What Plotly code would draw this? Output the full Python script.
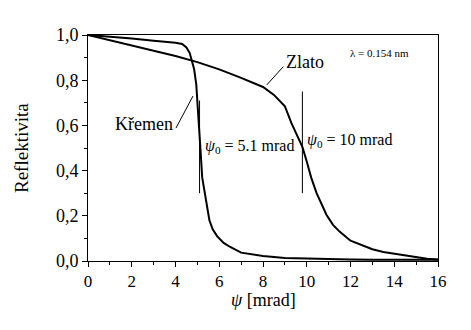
import plotly.graph_objects as go

# Reflectivity of quartz (Křemen) vs. grazing angle psi [mrad]
psi_kremen = [0, 1, 2, 3, 3.5, 4.0, 4.3, 4.5, 4.65, 4.75, 4.85, 4.95, 5.05, 5.12,
              5.17, 5.22, 5.3, 5.4, 5.55, 5.7, 5.9, 6.2, 6.5, 7.0, 7.5, 8, 9, 10,
              11, 12, 13, 14, 15, 16]
r_kremen = [1.0, 0.993, 0.985, 0.975, 0.972, 0.966, 0.96, 0.945, 0.92, 0.89, 0.85,
            0.78, 0.65, 0.55, 0.45, 0.37, 0.32, 0.26, 0.18, 0.14, 0.11, 0.08, 0.062,
            0.037, 0.028, 0.022, 0.013, 0.01, 0.008, 0.007, 0.006, 0.006, 0.005, 0.005]

# Reflectivity of gold (Zlato)
psi_zlato = [0, 1, 2, 3, 4, 5, 6, 7, 7.5, 8, 8.5, 9, 9.3, 9.6, 9.8, 10.0, 10.2,
             10.45, 10.7, 10.9, 11.2, 11.5, 12, 12.5, 13, 13.5, 14, 14.5, 15, 15.5, 16]
r_zlato = [1.0, 0.977, 0.955, 0.932, 0.907, 0.88, 0.848, 0.81, 0.79, 0.77, 0.735,
           0.685, 0.61, 0.55, 0.505, 0.44, 0.37, 0.30, 0.245, 0.205, 0.16, 0.13,
           0.09, 0.07, 0.052, 0.04, 0.033, 0.025, 0.016, 0.01, 0.007]

# Critical angles (marker positions) and their vertical extents
psi0_kremen = 5.1
psi0_zlato = 9.8
marker_kremen = [0.30, 0.71]
marker_zlato = [0.30, 0.75]

x_ticks = [0, 2, 4, 6, 8, 10, 12, 14, 16]
x_ticklabels = ["0", "2", "4", "6", "8", "10", "12", "14", "16"]
y_ticks = [0.0, 0.2, 0.4, 0.6, 0.8, 1.0]
y_ticklabels = ["0,0", "0,2", "0,4", "0,6", "0,8", "1,0"]

FONT = "Times New Roman, Liberation Serif, serif"
line = dict(color="black", width=2)

fig = go.Figure()
fig.add_trace(go.Scatter(x=psi_kremen, y=r_kremen, mode="lines", line=line,
                         name="Křemen", showlegend=False))
fig.add_trace(go.Scatter(x=psi_zlato, y=r_zlato, mode="lines", line=line,
                         name="Zlato", showlegend=False))

thin = dict(color="black", width=1)
shapes = [
    dict(type="line", xref="x", yref="y", x0=psi0_kremen, x1=psi0_kremen,
         y0=marker_kremen[0], y1=marker_kremen[1], line=thin),
    dict(type="line", xref="x", yref="y", x0=psi0_zlato, x1=psi0_zlato,
         y0=marker_zlato[0], y1=marker_zlato[1], line=thin),
    # leader lines for the curve labels
    dict(type="line", xref="x", yref="y", x0=4.02, y0=0.588, x1=4.8, y1=0.73, line=thin),
    dict(type="line", xref="x", yref="y", x0=8.17, y0=0.779, x1=8.93, y1=0.86, line=thin),
]

annotations = [
    dict(x=3.98, y=0.606, text="Křemen", xanchor="right", yanchor="middle",
         font=dict(size=18)),
    dict(x=8.98, y=0.88, text="Zlato", xanchor="left", yanchor="middle",
         font=dict(size=18)),
    dict(x=5.24, y=0.506, text="<i>ψ</i><sub>0</sub> = 5.1 mrad", xanchor="left",
         yanchor="middle", font=dict(size=16)),
    dict(x=9.9, y=0.535, text="<i>ψ</i><sub>0</sub> = 10 mrad", xanchor="left",
         yanchor="middle", font=dict(size=16)),
    dict(x=11.9, y=0.92, text="λ = 0.154 nm", xanchor="left", yanchor="middle",
         font=dict(size=11)),
]
for a in annotations:
    a.update(xref="x", yref="y", showarrow=False)

# axis titles placed at fixed pixel offsets from the plot frame
annotations += [
    dict(xref="paper", yref="paper", x=0.5, y=0, yshift=-39, text="<i>ψ</i> [mrad]",
         xanchor="center", yanchor="middle", showarrow=False, font=dict(size=18)),
    dict(xref="paper", yref="paper", x=0, y=0.5, xshift=-67, text="Reflektivita",
         textangle=-90, xanchor="center", yanchor="middle", showarrow=False,
         font=dict(size=19)),
]
for a in annotations:
    a["font"].update(family=FONT, color="black")

axis_common = dict(
    showline=True, linecolor="black", linewidth=1, mirror=True,
    ticks="outside", ticklen=5, tickwidth=1, tickcolor="black",
    showgrid=False, zeroline=False,
)

fig.update_layout(
    width=471, height=330,
    margin=dict(l=88, r=33, t=35, b=69),
    plot_bgcolor="white", paper_bgcolor="white",
    font=dict(family=FONT, color="black"),
    shapes=shapes, annotations=annotations,
    xaxis=dict(range=[0, 16], tickvals=x_ticks, ticktext=x_ticklabels,
               tickfont=dict(family=FONT, size=17, color="black"),
               minor=dict(ticks="outside", ticklen=3, dtick=1, tickcolor="black"),
               **axis_common),
    yaxis=dict(range=[0, 1.0], tickvals=y_ticks, ticktext=y_ticklabels,
               tickfont=dict(family=FONT, size=18, color="black"),
               minor=dict(ticks="outside", ticklen=3, dtick=0.1, tickcolor="black"),
               **axis_common),
)

fig.write_html("out.html")
